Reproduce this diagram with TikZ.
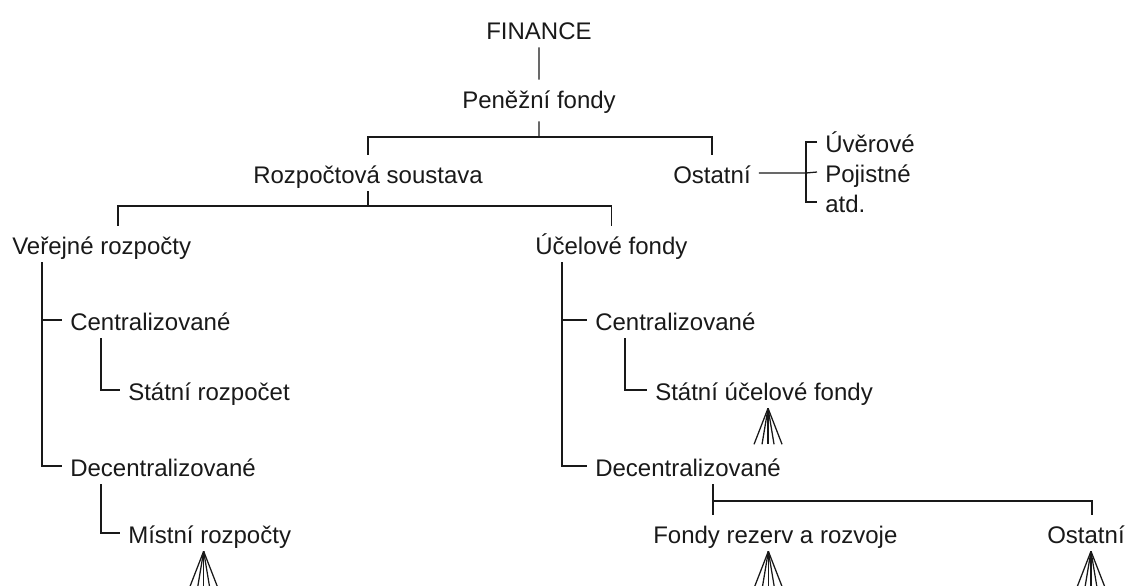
\documentclass[tikz,border=0pt]{standalone}
\usepackage{fontspec}
\setmainfont{Liberation Sans}
\definecolor{fin_ink}{RGB}{25, 25, 25}
\usepackage{tikz}

\begin{document}
\begin{tikzpicture}[
        x=0.025cm, y=-0.025cm,
        every node/.style={font=\fontsize{17.07}{20}\selectfont, text=fin_ink},
        lbl/.style={anchor=base west, inner xsep=0.2cm, inner ysep=0.075cm, text height=0.625cm, text depth=0.125cm},
        link/.style={draw=fin_ink, line width=0.9pt},
        fan/.pic={\foreach \dx in {-14,-6,0,6,14} \draw[link] (0,0) -- (\dx,36);},
      ]
        \useasboundingbox (0,0) rectangle (1127,586);

        \node[lbl] (fin)  at (478,39)  {FINANCE};
        \node[lbl] (pf)   at (454,108) {Peněžní fondy};
        \node[lbl] (rs)   at (245,183) {Rozpočtová soustava};
        \node[lbl] (os)   at (665,183) {Ostatní};
        \node[lbl] (uv)   at (817,152) {Úvěrové};
        \node[lbl] (poj)  at (817,182) {Pojistné};
        \node[lbl] (atd)  at (817,212) {atd.};
        \node[lbl] (vr)   at (4,254)   {Veřejné rozpočty};
        \node[lbl] (uf)   at (527,254) {Účelové fondy};
        \node[lbl] (vc)   at (62,330)  {Centralizované};
        \node[lbl] (vsr)  at (120,400) {Státní rozpočet};
        \node[lbl] (vd)   at (62,476)  {Decentralizované};
        \node[lbl] (mr)   at (120,543) {Místní rozpočty};
        \node[lbl] (uc)   at (587,330) {Centralizované};
        \node[lbl] (suf)  at (647,400) {Státní účelové fondy};
        \node[lbl] (ud)   at (587,476) {Decentralizované};
        \node[lbl] (frr)  at (645,543) {Fondy rezerv a rozvoje};
        \node[lbl] (os2)  at (1039,543) {Ostatní};

        \coordinate (b1) at (539,137);
        \coordinate (br) at (806,173);
        \coordinate (b2) at (118,206);
        \coordinate (t1) at (42,262);
        \coordinate (t2) at (101,338);
        \coordinate (t3) at (101,484);
        \coordinate (t4) at (562,262);
        \coordinate (t5) at (625,338);
        \coordinate (dj) at (713,501);
        \coordinate (dr) at (1092,501);

        \draw[link] (fin) -- (pf);
        \draw[link] ([yshift=-0.125cm]pf.south) -- (b1);
        \draw[link] (rs.north) |- (b1) -| (os.north);
        \draw[link] (os) -- (br);
        \draw[link] (uv.west) -| (br) |- (atd.west);
        \draw[link] (br) -- (poj.west);

        \draw[link] (rs.south) -- (rs.south |- b2);
        \draw[link] (vr.north -| b2) |- (b2 -| uf.north) -- (uf.north);

        \draw[link] (t1) |- (vd.west);
        \draw[link] (t1 |- vc.west) -- (vc.west);
        \draw[link] (t2) |- (vsr.west);
        \draw[link] (t3) |- (mr.west);

        \draw[link] (t4) |- (ud.west);
        \draw[link] (t4 |- uc.west) -- (uc.west);
        \draw[link] (t5) |- (suf.west);
        \draw[link] (dj |- ud.south) -- (dj |- frr.north);
        \draw[link] (dj) -- (dr) -- (dr |- os2.north);

        \pic at ([xshift=-0.15cm]mr.south) {fan};
        \pic at ([xshift=0.1cm]suf.south) {fan};
        \pic at ([xshift=-0.175cm]frr.south) {fan};
        \pic at ([xshift=0.125cm]os2.south) {fan};
      \end{tikzpicture}
\end{document}
